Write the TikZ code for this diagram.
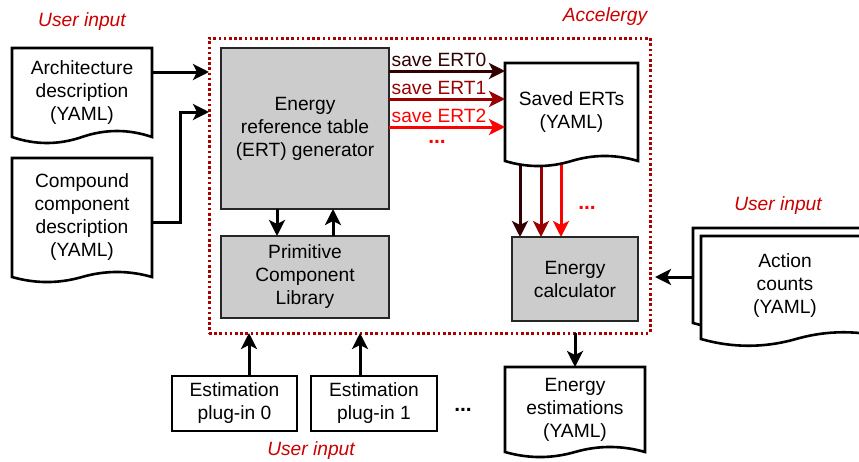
\documentclass[tikz,border=0pt]{standalone}
\usepackage{fontspec}
\setmainfont{Liberation Sans}
\usetikzlibrary{arrows.meta,calc}

\definecolor{userred}{RGB}{204,0,0}
\definecolor{frame}{RGB}{170,0,0}
\definecolor{ertA}{RGB}{51,0,0}
\definecolor{ertB}{RGB}{153,0,0}
\definecolor{ertC}{RGB}{255,0,0}
\definecolor{boxgray}{RGB}{204,204,204}

\pgfdeclarelayer{under}
\pgfdeclarelayer{docs}
\pgfsetlayers{under,docs,main}

% outline of a document shape with a wavy bottom edge
\newcommand{\docoutline}[2]{%
  \draw[docline] (#1.north west) -- (#1.north east) -- (#1.south east)
    .. controls ($(#1.south east)!0.3333!(#1.south)+(0,-#2)$)
           and ($(#1.south east)!0.6667!(#1.south)+(0,-#2)$) .. (#1.south)
    .. controls ($(#1.south)!0.3333!(#1.south west)+(0,#2)$)
           and ($(#1.south)!0.6667!(#1.south west)+(0,#2)$) .. (#1.south west)
    -- cycle;}

\tikzset{
  docline/.style={line width=2.6pt, draw=black, fill=white, line join=miter},
  doctext/.style={inner sep=0pt, outer sep=0pt, align=center},
  graybox/.style={draw=black!85, line width=1.4pt, fill=boxgray, inner sep=0pt, outer sep=0pt, align=center},
  plugbox/.style={draw=black, line width=2.6pt, fill=white, inner sep=0pt, outer sep=0pt, align=center},
  arr/.style={line width=3pt, -{Stealth[length=16pt,width=16pt,inset=4pt]}},
  redlabel/.style={text=userred, font=\fontsize{19.2}{23}\selectfont\itshape},
  dots/.style={font=\fontsize{21}{23}\selectfont\bfseries},
}

\begin{document}
\begin{tikzpicture}[x=1pt, y=-1pt, font=\fontsize{19.2}{23}\selectfont]
\useasboundingbox (0,0) rectangle (859,461);
\clip (0,0) rectangle (859,461);

% tool frame
\node[draw=frame, line width=3pt, dash pattern=on 2.6pt off 2.6pt,
      minimum width=441pt, minimum height=295pt, inner sep=0pt, outer sep=0pt] (accel) at (429.5,185.5) {};
\node[redlabel] (accelname) at (605,17) {Accelergy};

% user inputs on the left
\node[redlabel] (userL) at (82,22) {User input};
\node[doctext, minimum width=140pt, minimum height=89pt] (arch) at (82,92.5)
  {Architecture\\description\\(YAML)};
\node[doctext, minimum width=140pt, minimum height=119pt] (comp) at (82,217.5)
  {Compound\\component\\description\\(YAML)};
\begin{pgfonlayer}{docs}
  \docoutline{arch}{8}
  \docoutline{comp}{6.7}
\end{pgfonlayer}

% blocks inside the frame
\node[graybox, minimum width=168pt, minimum height=161pt] (ertgen) at (305,128.5)
  {Energy\\reference table\\(ERT) generator};
\node[graybox, minimum width=168pt, minimum height=82pt] (prim) at (305,277)
  {Primitive\\Component\\Library};
\node[doctext, minimum width=133pt, minimum height=98pt] (saved) at (571.5,112)
  {Saved ERTs\\(YAML)};
\node[graybox, minimum width=126pt, minimum height=84pt] (calc) at (575,279)
  {Energy\\calculator};
\begin{pgfonlayer}{docs}
  \docoutline{saved}{6.7}
\end{pgfonlayer}

% action counts (stacked documents)
\node[redlabel] (userR) at (778,206) {User input};
\node[doctext, minimum width=190pt, minimum height=95pt] (actback) at (788,275.5) {};
\node[doctext, minimum width=190pt, minimum height=103pt] (actfront) at (796,287.5) {};
\node[doctext] (acttxt) at (785,286) {Action\\counts\\(YAML)};
\begin{pgfonlayer}{docs}
  \docoutline{actback}{9}
  \docoutline{actfront}{9}
\end{pgfonlayer}

% output document
\node[doctext, minimum width=140pt, minimum height=85pt] (est) at (575,409.5)
  {Energy\\estimations\\(YAML)};
\begin{pgfonlayer}{docs}
  \docoutline{est}{6.7}
\end{pgfonlayer}

% estimation plug-ins
\node[plugbox, minimum width=125pt, minimum height=55pt] (plug0) at (234.5,403.5)
  {Estimation\\plug-in 0};
\node[plugbox, minimum width=126pt, minimum height=55pt] (plug1) at (374,403.5)
  {Estimation\\plug-in 1};
\node[dots] (plugdots) at (463,410) {...};
\node[redlabel] (userB) at (311,451) {User input};

% inputs into the frame
\draw[arr] ($(arch.north east)+(0,24)$) -- ($(accel.north west)+(0,34)$);
\coordinate (compout) at ($(comp.east)+(0,4.5)$);
\draw[arr] (compout) -- ++(28,0) |- ($(accel.north west)+(0,74)$);

% generator <-> primitive library
\draw[arr] ($(ertgen.south west)+(56,0)$) -- ($(prim.north west)+(56,0)$);
\draw[arr] ($(prim.north west)+(112,0)$) -- ($(ertgen.south west)+(112,0)$);

% saving ERTs
\draw[arr, ertA] ($(ertgen.north east)+(0,23)$) -- ($(saved.north west)+(0,8)$);
\draw[arr, ertB] ($(ertgen.north east)+(0,51)$) -- ($(saved.north west)+(0,36)$);
\draw[arr, ertC] ($(ertgen.north east)+(0,79)$) -- ($(saved.north west)+(0,64)$);
\node[text=ertA] (lab0) at (439,60) {save ERT0};
\node[text=ertB] (lab1) at (439,88) {save ERT1};
\node[text=ertC] (lab2) at (439,116) {save ERT2};
\node[dots, text=ertC] (savedots) at (437,142) {...};

% reading ERTs into the calculator
\begin{pgfonlayer}{under}
  \draw[arr, ertA] ($(saved.south west)+(15,0)$) -- ($(calc.north west)+(8,0)$);
  \draw[arr, ertB] ($(saved.south west)+(36,0)$) -- ($(calc.north west)+(29,0)$);
  \draw[arr, ertC] ($(saved.south west)+(56,0)$) -- ($(calc.north west)+(49,0)$);
\end{pgfonlayer}
\node[dots, text=ertC] (calcdots) at (587,208) {...};

% action counts in, estimations out
\draw[arr] ($(actback.west)+(0,1.5)$) -- ($(accel.east)+(5,91.5)$);
\draw[arr] (accel.south -| est.north) -- (est.north);

% plug-ins into the frame
\coordinate (p0) at ($(plug0.north)+(14.5,0)$);
\coordinate (p1) at ($(plug1.north)+(-14,0)$);
\draw[arr] (p0) -- (p0 |- accel.south);
\draw[arr] (p1) -- (p1 |- accel.south);
\end{tikzpicture}
\end{document}
